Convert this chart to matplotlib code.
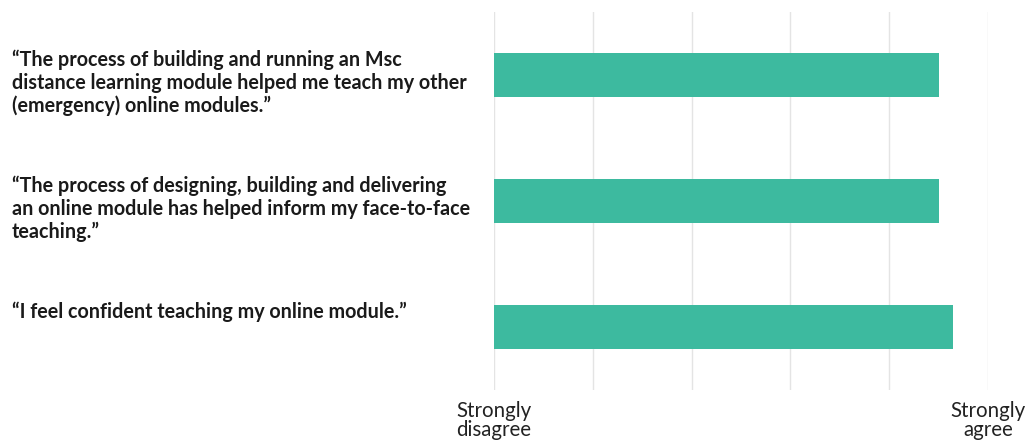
import matplotlib
matplotlib.use("Agg")
import matplotlib.pyplot as plt
from matplotlib.transforms import blended_transform_factory

statements = [
    "\u201cThe process of building and running an Msc\ndistance learning module helped me teach my other\n(emergency) online modules.\u201d",
    "\u201cThe process of designing, building and delivering\nan online module has helped inform my face-to-face\nteaching.\u201d",
    "\u201cI feel confident teaching my online module.\u201d",
]
scores = [5.5, 5.5, 5.65]
scale_ticks = [1, 2, 3, 4, 5, 6]
scale_labels = ["Strongly\ndisagree", "", "", "", "", "Strongly\nagree"]

W, H = 1027, 441
fig = plt.figure(figsize=(W / 100, H / 100), dpi=100)
ax = fig.add_axes([494 / W, (H - 390) / H, 494 / W, 378 / H])

ypos = list(range(len(statements)))
bar_h = 0.35
ax.barh(ypos, [s - scale_ticks[0] for s in scores], left=scale_ticks[0],
        height=bar_h, color="#3dba9f", zorder=3)
ax.set_xlim(scale_ticks[0], scale_ticks[-1])
ax.set_ylim(len(statements) - 0.5, -0.5)
ax.set_yticks([])
ax.set_xticks(scale_ticks)
ax.set_xticklabels(scale_labels, fontsize=14.8, color="#222222", family="Lato",
                   linespacing=0.95)
ax.tick_params(axis="x", length=0, pad=8)
ax.grid(axis="x", color="#e4e4e4", linewidth=1, zorder=0)
for s in ax.spines.values():
    s.set_visible(False)

tr = blended_transform_factory(fig.transFigure, ax.transData)
for i, txt in enumerate(statements):
    ax.text(12 / W, i - bar_h / 2 - 0.03, txt, transform=tr, ha="left", va="top",
            fontsize=14.2, fontweight="bold", family="Lato", color="#1a1a1a",
            linespacing=1.18)

fig.savefig("out.png", dpi=100)
